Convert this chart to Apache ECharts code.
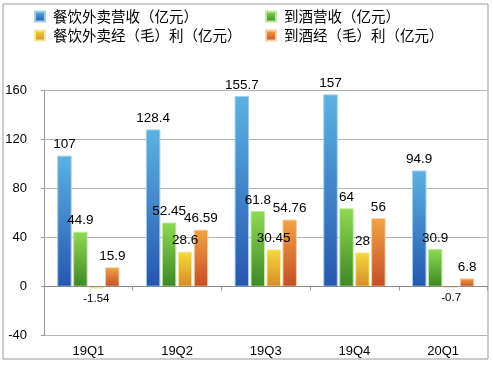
<!DOCTYPE html>
<html><head><meta charset="utf-8">
<script src="https://cdn.jsdelivr.net/npm/echarts@6/dist/echarts.min.js"></script>
<style>html,body{margin:0;padding:0;background:#fff}#c{width:493px;height:365px}</style>
</head><body><div id="c"></div>
<script>
const categories = ['19Q1','19Q2','19Q3','19Q4','20Q1'];
const seriesNames = ['餐饮外卖营收（亿元）','到酒营收（亿元）','餐饮外卖经（毛）利（亿元）','到酒经（毛）利（亿元）'];
const foodRevenue = [107, 128.4, 155.7, 157, 94.9];
const hotelRevenue = [44.9, 52.45, 61.8, 64, 30.9];
const foodProfit = [-1.54, 28.6, 30.45, 28, -0.7];
const hotelProfit = [15.9, 46.59, 54.76, 56, 6.8];
const yTicks = {min: -40, max: 160, interval: 40};

const grads = [
  ['#5cb2e2', '#2656ae', '#9fd0f0'],
  ['#8fda52', '#3d8726', '#bde9a0'],
  ['#f2da3a', '#d68c2a', '#f6e8a0'],
  ['#f2a444', '#c44e28', '#f8cfa0']
];
function grad(i){
  return new echarts.graphic.LinearGradient(0,0,0,1,[{offset:0,color:grads[i][0]},{offset:1,color:grads[i][1]}]);
}
const font = 'Liberation Sans, Arial, sans-serif';
const allData = [foodRevenue, hotelRevenue, foodProfit, hotelProfit];
const series = allData.map((arr, i) => ({
  name: seriesNames[i],
  type: 'bar',
  barWidth: 14.5,
  barGap: '10%',
  itemStyle: {color: grad(i), borderColor: grads[i][2], borderWidth: 1},
  label: {show: true, position: 'top', distance: 4, color: '#000', fontSize: 13.5, fontFamily: font},
  data: arr.map(v => v < 0 ? {value: v, label: {position: 'bottom', fontSize: 11.5, distance: 4}} : v),
  markLine: i === 0 ? {silent: true, symbol: 'none', label: {show: false},
    lineStyle: {color: '#8a8a8a', type: 'solid', width: 1}, data: [{yAxis: 0}]} : undefined,
  z: 3
}));

const legendText = {fontSize: 14.5, color: '#000', fontFamily: 'Noto Sans CJK SC', lineHeight: 15, padding: [0,0,0,3]};
const chart = echarts.init(document.getElementById('c'), null, {renderer: 'canvas'});
chart.setOption({
  animation: false,
  backgroundColor: '#fff',
  graphic: [{type: 'rect', shape: {x: 3, y: 4, width: 485, height: 355},
    style: {fill: 'none', stroke: '#9a9a9a', lineWidth: 1}, z: -1, silent: true}],
  legend: [
    {data: [seriesNames[0], seriesNames[2]], orient: 'vertical', left: 29, top: 4,
     itemWidth: 10, itemHeight: 10, itemGap: 4, icon: 'rect', textStyle: legendText},
    {data: [seriesNames[1], seriesNames[3]], orient: 'vertical', left: 260, top: 4,
     itemWidth: 10, itemHeight: 10, itemGap: 4, icon: 'rect', textStyle: legendText}
  ],
  grid: {left: 44, right: 5.5, top: 90.7, bottom: 29.3, containLabel: false},
  xAxis: {
    type: 'category', data: categories,
    axisLine: {lineStyle: {color: '#9a9a9a'}},
    axisTick: {show: true, length: 4, lineStyle: {color: '#9a9a9a'}},
    axisLabel: {color: '#000', fontSize: 13, fontFamily: font, margin: 9}
  },
  yAxis: {
    type: 'value', min: yTicks.min, max: yTicks.max, interval: yTicks.interval,
    axisLine: {show: true, lineStyle: {color: '#9a9a9a'}},
    axisTick: {show: true, length: 3, lineStyle: {color: '#9a9a9a'}},
    axisLabel: {color: '#000', fontSize: 13, fontFamily: font, margin: 17},
    splitLine: {lineStyle: {color: '#b4b4b4'}}
  },
  series: series
});
</script></body></html>
